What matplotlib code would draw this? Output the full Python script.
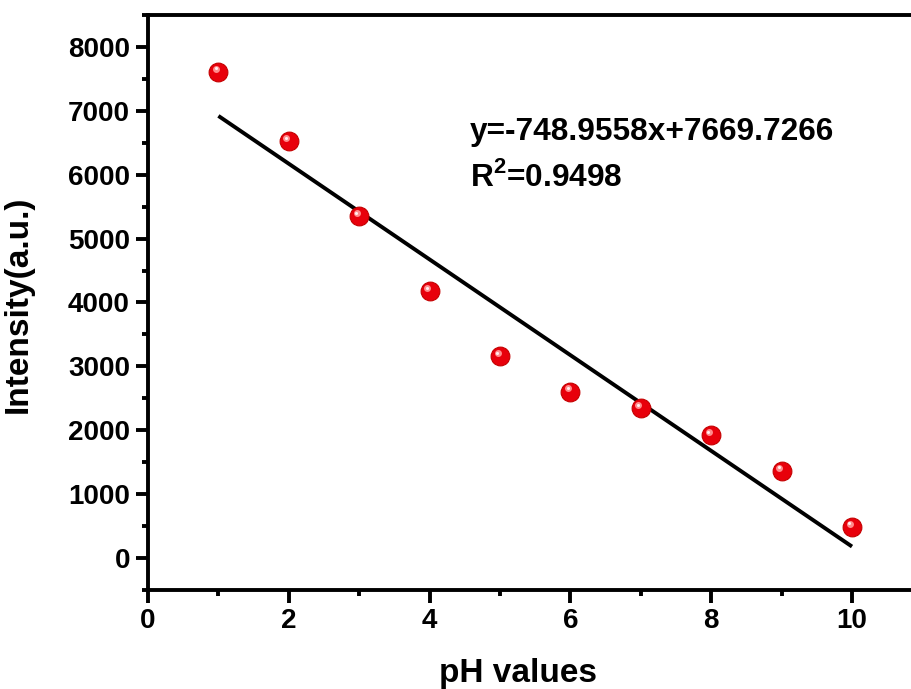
import matplotlib
matplotlib.use("Agg")
import matplotlib.pyplot as plt
import matplotlib.transforms as mtransforms
from matplotlib.ticker import MultipleLocator
import numpy as np

# data
ph = [1, 2, 3, 4, 5, 6, 7, 8, 9, 10]
intensity = [7610, 6520, 5350, 4175, 3160, 2605, 2345, 1920, 1365, 490]
slope = -748.9558
intercept = 7669.7266
r2 = 0.9498

plt.rcParams['font.family'] = ['Liberation Sans', 'DejaVu Sans']
plt.rcParams['font.weight'] = 'bold'
plt.rcParams['mathtext.fontset'] = 'custom'
plt.rcParams['mathtext.rm'] = 'Liberation Sans:bold'
plt.rcParams['mathtext.bf'] = 'Liberation Sans:bold'

fig = plt.figure(figsize=(9.11, 6.89), dpi=100)
ax = fig.add_axes([148/911, 1 - 590/689, 11*70.4/911, (590-15)/689])

# fit line
xf = np.array([ph[0], ph[-1]])
ax.plot(xf, slope*xf + intercept, color='black', lw=2.8, solid_capstyle='butt', zorder=2)

# red "spheres"
ax.plot(ph, intensity, 'o', ms=13.5, mfc='#e8000b', mec='#c40000', mew=0.8, zorder=3)
hl = ax.transData + mtransforms.ScaledTranslation(-1.8/72, 2.3/72, fig.dpi_scale_trans)
ax.plot(ph, intensity, 'o', ms=5, mfc='#ff8c8c', mec='none', transform=hl, zorder=4)
hl2 = ax.transData + mtransforms.ScaledTranslation(-2.0/72, 2.6/72, fig.dpi_scale_trans)
ax.plot(ph, intensity, 'o', ms=2.2, mfc='#fff0f0', mec='none', transform=hl2, zorder=5)

ax.set_xlim(0, 11)
ax.set_ylim(-500, 8500)
ax.xaxis.set_major_locator(MultipleLocator(2))
ax.xaxis.set_minor_locator(MultipleLocator(1))
ax.yaxis.set_minor_locator(MultipleLocator(500))
ax.set_yticks(range(0, 8001, 1000))

for s in ax.spines.values():
    s.set_linewidth(2.8)
ax.tick_params(which='major', direction='out', length=9, width=2.8, labelsize=20, pad=4)
ax.tick_params(which='minor', direction='out', length=4.5, width=2.8)
for lab in ax.get_xticklabels() + ax.get_yticklabels():
    lab.set_fontweight('bold')

ax.set_xlabel('pH values', fontsize=24, fontweight='bold')
ax.set_ylabel('Intensity(a.u.)', fontsize=24, fontweight='bold')
ax.xaxis.set_label_coords(0.478, -0.118)
ax.yaxis.set_label_coords(-0.148, 0.497)

ax.text(4.57, 6672, 'y=-748.9558x+7669.7266', fontsize=22.8, fontweight='bold', va='center')
ax.text(4.57, 5965, 'R$^{2}$=' + f'{r2:.4f}', fontsize=22.8, fontweight='bold', va='center')

fig.savefig('out.png', dpi=100)
